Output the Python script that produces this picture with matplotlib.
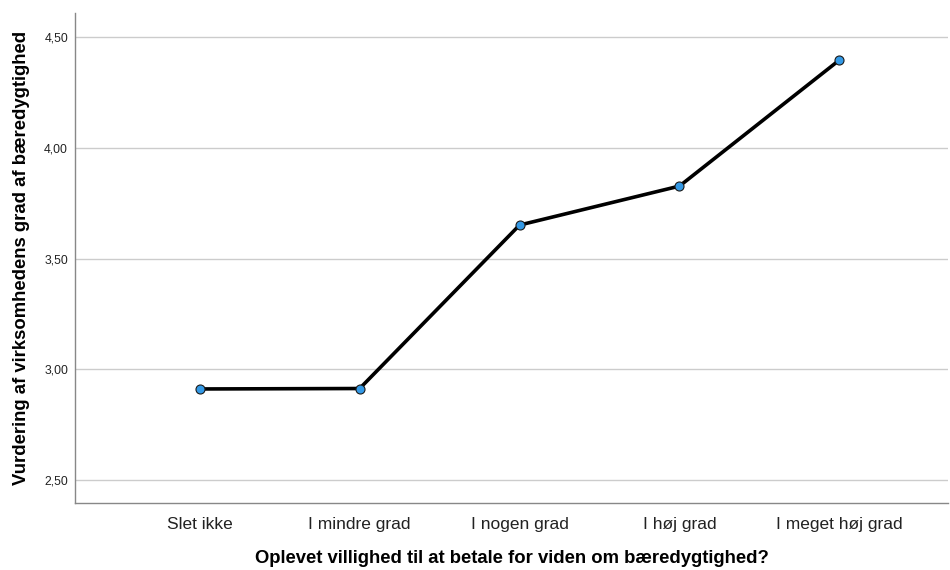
import matplotlib.pyplot as plt
from matplotlib.ticker import FuncFormatter

categories = ["Slet ikke", "I mindre grad", "I nogen grad", "I høj grad", "I meget høj grad"]
means = [2.911, 2.913, 3.651, 3.827, 4.396]
yticks = [2.5, 3.0, 3.5, 4.0, 4.5]

plt.rcParams["font.family"] = ["Liberation Sans", "DejaVu Sans"]

fig = plt.figure(figsize=(9.5, 5.7), dpi=100)
ax = fig.add_axes([0.079, 0.1175, 0.919, 0.8595])

x = list(range(len(categories)))
ax.plot(
    x,
    means,
    color="black",
    linewidth=2.6,
    marker="o",
    markersize=6.5,
    markerfacecolor="#3399e6",
    markeredgecolor="#1a1a1a",
    markeredgewidth=0.8,
    zorder=3,
)

ax.set_xlim(-0.78, 4.68)
ax.set_ylim(2.396, 4.608)
ax.set_xticks(x)
ax.set_xticklabels(categories, fontsize=12.5, color="#222222")
ax.set_yticks(yticks)
ax.yaxis.set_major_formatter(FuncFormatter(lambda v, _: f"{v:.2f}".replace(".", ",")))
ax.tick_params(axis="y", labelsize=8.8, colors="#222222", length=0, pad=5)
ax.tick_params(axis="x", length=0, pad=10)

ax.grid(axis="y", color="#cccccc", linewidth=1)
ax.set_axisbelow(True)

for side in ["top", "right"]:
    ax.spines[side].set_visible(False)
for side in ["left", "bottom"]:
    ax.spines[side].set_color("#888888")
    ax.spines[side].set_linewidth(1)

ax.set_xlabel("Oplevet villighed til at betale for viden om bæredygtighed?",
              fontsize=13.3, fontweight="bold", labelpad=13)
ax.set_ylabel("Vurdering af virksomhedens grad af bæredygtighed",
              fontsize=13.3, fontweight="bold", labelpad=10)

fig.savefig("out.png", dpi=100)
plt.close(fig)
